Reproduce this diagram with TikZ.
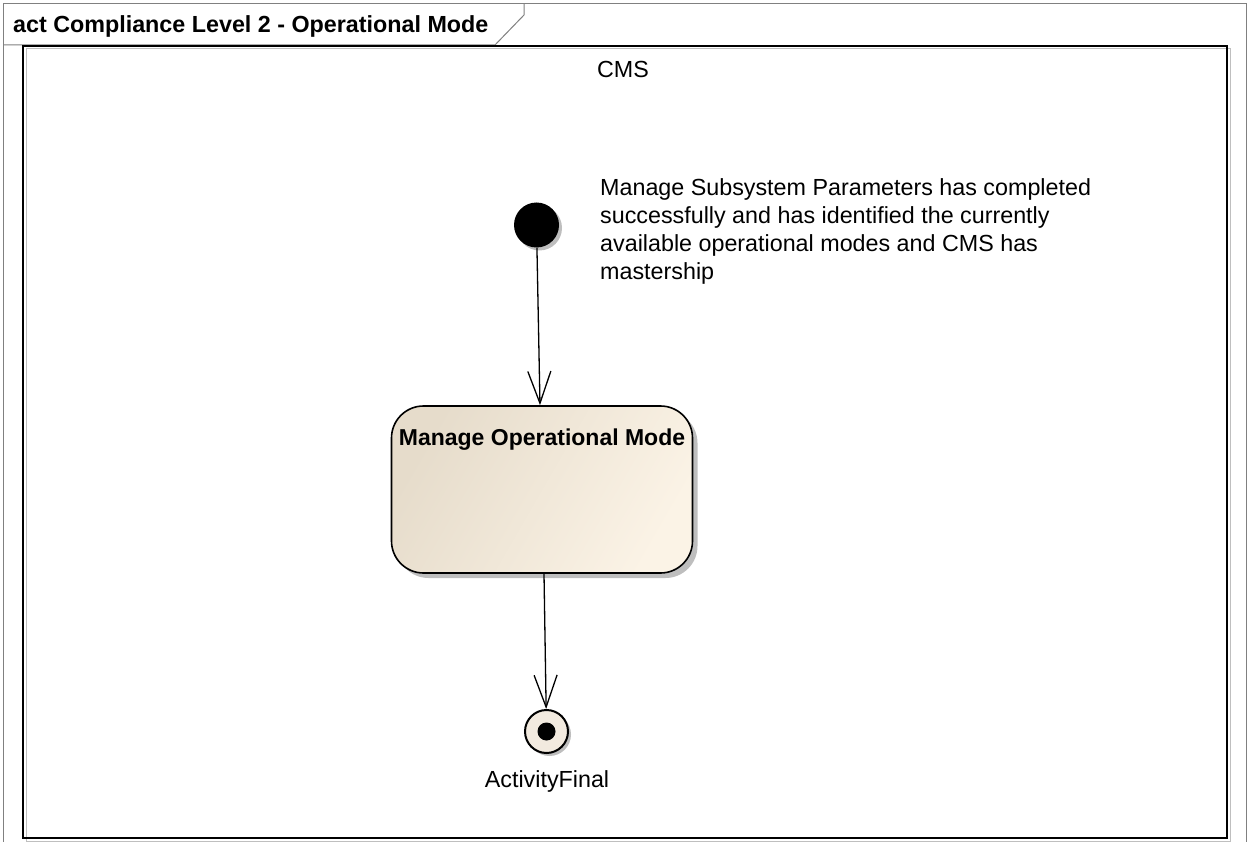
\documentclass[tikz,border=0pt]{standalone}
\usepackage{fontspec}
\setmainfont{Liberation Sans}
\usetikzlibrary{arrows.meta,shadows}
\definecolor{actlight}{HTML}{FBF3E6}
\definecolor{actdark}{HTML}{E6DCCB}
\definecolor{finfill}{HTML}{F2EADF}
\definecolor{shadowgray}{HTML}{BEBEBE}
\newcommand{\eatext}{\fontsize{23.3}{28.3}\selectfont}

\begin{document}
\begin{tikzpicture}[x=1pt,y=-1pt,
  txt/.style={inner sep=0pt, font=\eatext},
  bold/.style={inner sep=0pt, font=\bfseries\eatext},
  shadowed/.style={drop shadow={shadow xshift=5pt, shadow yshift=-5pt, fill=shadowgray, opacity=1}},
  flow/.style={line width=1.3pt, -{Straight Barb[length=32pt,width=23pt]}}]
  \useasboundingbox (0,0) rectangle (1247,842);
  % frame and tab
  \draw[black!50, line width=1pt] (3,842) -- (3,4) -- (1246,4) -- (1246,842);
  \draw[black!50, line width=1pt] (3,45) -- (495,45) -- (524,15) -- (524,4);
  \node (title) [bold, anchor=base west] at (13,33) {act Compliance Level 2 - Operational Mode};
  % partition CMS
  \draw[black!25, line width=1pt] (26,49) rectangle (1230,841);
  \draw[line width=2pt] (23,46) rectangle (1227,838);
  \node (cms) [txt, anchor=base] at (623,78) {CMS};
  % nodes
  \node (init) [circle, fill=black, minimum size=45pt, inner sep=0pt,
    drop shadow={shadow xshift=3pt, shadow yshift=-3pt, fill=shadowgray, opacity=1}] at (536.5,225) {};
  \node (note) [txt, anchor=north west, align=left] at (600,178)
    {Manage Subsystem Parameters has completed\\
     successfully and has identified the currently\\
     available operational modes and CMS has\\
     mastership};
  \node (act) [draw, line width=1.6pt, rounded corners=32pt, minimum width=301pt, minimum height=167pt,
    shadowed, left color=actdark, right color=actlight, shading angle=60] at (542,489.5) {};
  \node (actname) [inner sep=0pt, font=\bfseries\fontsize{23}{28}\selectfont, anchor=base] at (542,445) {Manage Operational Mode};
  \node (fin) [circle, draw, line width=2pt, fill=finfill, minimum size=43pt, inner sep=0pt,
    drop shadow={shadow xshift=3pt, shadow yshift=-3pt, fill=shadowgray, opacity=1}] at (546.5,731.5) {};
  \node (findot) [circle, fill=black, minimum size=18pt, inner sep=0pt] at (fin) {};
  \node (finlbl) [txt, anchor=base] at (547,787) {ActivityFinal};
  % control flows
  \draw[flow] (init) -- ([xshift=-2pt]act.north);
  \draw[flow] ([xshift=2pt]act.south) -- (fin);
\end{tikzpicture}
\end{document}
